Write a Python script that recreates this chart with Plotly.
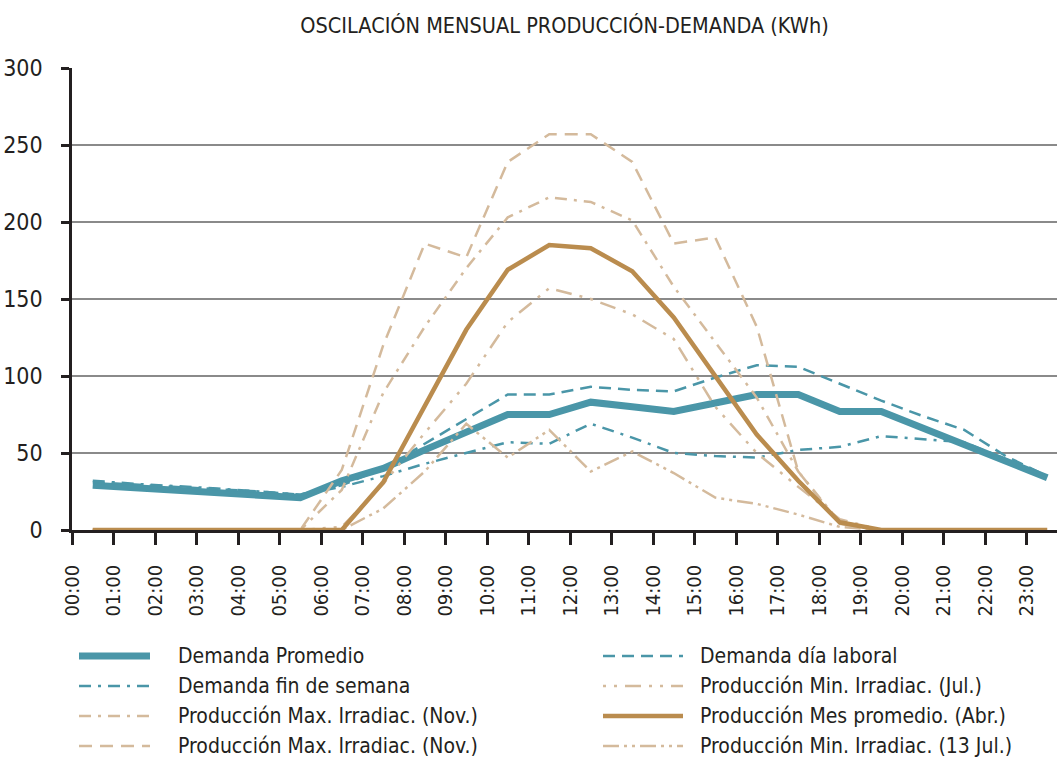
import plotly.graph_objects as go

# Hour labels on the x axis
hours = ["00:00", "01:00", "02:00", "03:00", "04:00", "05:00", "06:00", "07:00",
         "08:00", "09:00", "10:00", "11:00", "12:00", "13:00", "14:00", "15:00",
         "16:00", "17:00", "18:00", "19:00", "20:00", "21:00", "22:00", "23:00"]

# Demand series (kWh)
demanda_promedio = [29, 27.5, 26, 24.5, 23, 21, 32, 40, 52, 63, 75, 75,
                    83, 80, 77, 82.5, 88, 88, 77, 77, 66, 56, 45, 34]
demanda_laboral = [31, 29.5, 28, 26.5, 25, 23, 29, 40, 56, 72, 88, 88,
                   93, 91, 90, 99, 107, 106, 95, 84, 74, 65, 48, 35]
demanda_fin_semana = [32, 30, 28.5, 27, 25, 23, 28, 35, 43, 50, 57, 56,
                      69, 60, 50, 48, 47, 52, 54, 61, 59, 57, 46, 34]

# Production series (kWh)
prod_min_jul = [0, 0, 0, 0, 0, 0, 2, 30, 63, 95, 135, 157,
                150, 140, 124, 80, 50, 28, 7, 0, 0, 0, 0, 0]
prod_max_nov_a = [0, 0, 0, 0, 0, 0, 26, 89, 132, 170, 203, 216,
                  213, 201, 158, 122, 86, 38, 5, 0, 0, 0, 0, 0]
prod_abril = [0, 0, 0, 0, 0, 0, 0, 31, 80, 130, 169, 185,
              183, 168, 138, 100, 62, 32, 5, 0, 0, 0, 0, 0]
prod_max_nov_b = [0, 0, 0, 0, 0, 0, 39, 120, 186, 177, 239, 257,
                  257, 239, 186, 190, 132, 38, 4, 0, 0, 0, 0, 0]
prod_min_13jul = [0, 0, 0, 0, 0, 0, 0, 14, 38, 69, 47, 65,
                  38, 51, 37, 21, 17, 10, 2, 0, 0, 0, 0, 0]

TEAL = "#4A96A8"
TAN = "#D4BA9C"
OCHRE = "#BA8C4E"
INK = "#231F20"
FONT = "DejaVu Sans Condensed, Liberation Sans Narrow, sans-serif"

# name, values, color, width, dash, legend column, legend row
series = [
    ("Demanda Promedio", demanda_promedio, TEAL, 7, "solid", 0, 0),
    ("Demanda día laboral", demanda_laboral, TEAL, 2.5, "12px,7px", 1, 0),
    ("Demanda fin de semana", demanda_fin_semana, TEAL, 2.5, "12px,7px,3px,7px", 0, 1),
    ("Producción Min. Irradiac. (Jul.)", prod_min_jul, TAN, 2.5, "3px,8px,3px,8px,16px,8px", 1, 1),
    ("Producción Max. Irradiac. (Nov.)", prod_max_nov_a, TAN, 2.5, "12px,7px,3px,7px", 0, 2),
    ("Producción Mes promedio. (Abr.)", prod_abril, OCHRE, 4.5, "solid", 1, 2),
    ("Producción Max. Irradiac. (Nov.)", prod_max_nov_b, TAN, 2.5, "13px,8px", 0, 3),
    ("Producción Min. Irradiac. (13 Jul.)", prod_min_13jul, TAN, 2.5, "16px,5px,3px,5px,3px,5px", 1, 3),
]

# values sit in the middle of each hour slot
x_mid = [i + 0.5 for i in range(len(hours))]

fig = go.Figure()
draw_order = [0, 1, 2, 3, 4, 6, 7, 5]
for k in draw_order:
    name, vals, color, width, dash, _, _ = series[k]
    fig.add_trace(go.Scatter(
        x=x_mid, y=vals, mode="lines", name=name, showlegend=False,
        line=dict(color=color, width=width, dash=dash),
    ))

# Plot-area geometry in pixels (used to place the legend below the axes)
W, H = 1057, 762
L, R, T, B = 72, 0, 68, 232
pw, ph = W - L - R, H - T - B


def px_x(px):
    return (px - L) / pw


def px_y(py):
    return (H - B - py) / ph


shapes = []
annotations = []
row_y = [656, 686, 716, 746]
col_line = [(79, 150), (603, 683)]
col_text = [176, 698]
for name, vals, color, width, dash, col, row in series:
    x0, x1 = col_line[col]
    yy = px_y(row_y[row])
    shapes.append(dict(type="line", xref="paper", yref="paper",
                       x0=px_x(x0), x1=px_x(x1), y0=yy, y1=yy,
                       line=dict(color=color, width=width, dash=dash)))
    annotations.append(dict(text=name, xref="paper", yref="paper",
                            x=px_x(col_text[col]), y=yy, xanchor="left", yanchor="middle",
                            showarrow=False, font=dict(family=FONT, size=21, color=INK)))

fig.update_layout(
    width=W, height=H,
    margin=dict(l=L, r=R, t=T, b=B, pad=0),
    paper_bgcolor="white", plot_bgcolor="white",
    title=dict(text="OSCILACIÓN MENSUAL PRODUCCIÓN-DEMANDA (KWh)",
               x=0.5, xref="paper", y=1 - 25 / H, yref="container", yanchor="middle",
               font=dict(family=FONT, size=21.5, color=INK)),
    shapes=shapes,
    annotations=annotations,
    showlegend=False,
)

fig.update_xaxes(
    range=[0, pw / 41.5], tickmode="array",
    tickvals=list(range(len(hours))), ticktext=hours, tickangle=-90,
    showgrid=False, zeroline=False,
    showline=True, linecolor=INK, linewidth=2.5,
    ticks="outside", ticklen=12, tickwidth=2.5, tickcolor=INK,
    ticklabelstandoff=12,
    tickfont=dict(family=FONT, size=20, color=INK),
)
fig.update_yaxes(
    range=[0, 300], tickmode="array", tickvals=[0, 50, 100, 150, 200, 250, 300],
    showgrid=True, gridcolor="#8a8a8a", gridwidth=1.5, zeroline=False,
    showline=True, linecolor=INK, linewidth=2.5,
    ticks="outside", ticklen=8, tickwidth=2.5, tickcolor=INK,
    ticklabelstandoff=14,
    tickfont=dict(family=FONT, size=23, color=INK),
)

fig.write_html("out.html")
